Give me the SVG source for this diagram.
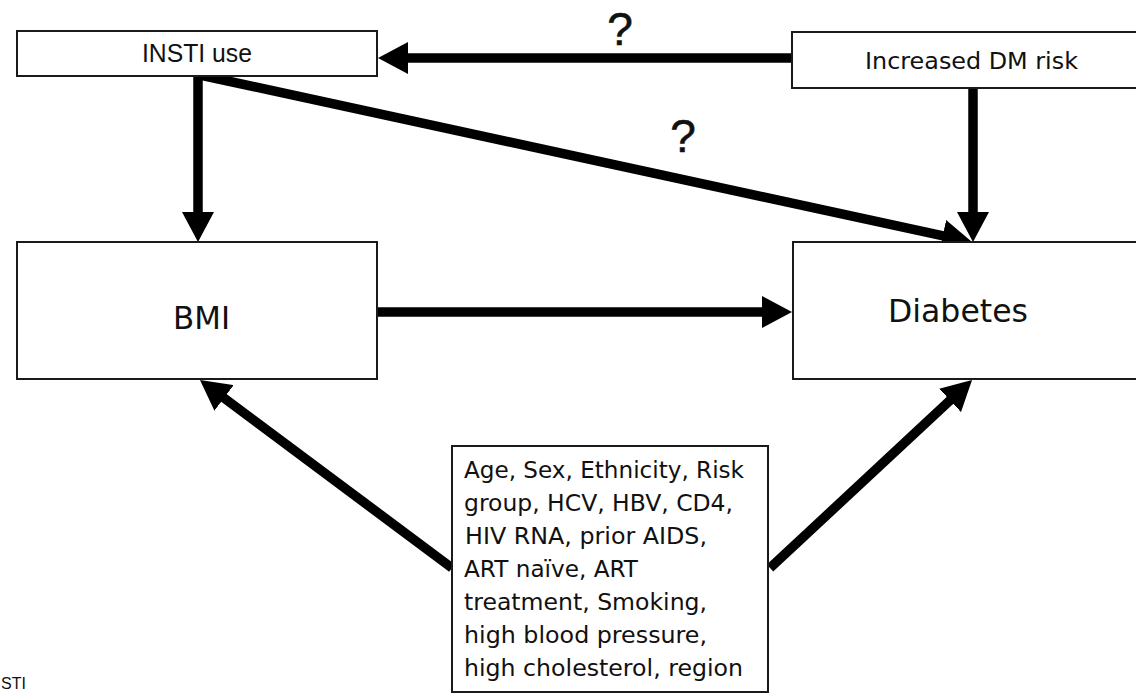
<svg xmlns="http://www.w3.org/2000/svg" width="1136" height="694" viewBox="0 0 1136 694">
<style>
.box{fill:#fff;stroke:#1a1a1a;stroke-width:2}
.conn{stroke:#000;stroke-width:9.5;fill:none;marker-end:url(#ah)}
.lbl{font-family:"DejaVu Sans",sans-serif;fill:#111}
.arial{font-family:"Liberation Sans",Arial,sans-serif;fill:#111}
</style>
<defs>
<marker id="ah" markerUnits="userSpaceOnUse" viewBox="0 0 30 32" refX="10" refY="16" markerWidth="30" markerHeight="32" orient="auto">
<path d="M0,0 L30,16 L0,32 z" fill="#000"/>
</marker>
</defs>
<rect width="1136" height="694" fill="#fff"/>
<g id="connectors">
<line class="conn" x1="792" y1="58" x2="398" y2="58"/>
<line class="conn" x1="198" y1="76" x2="198" y2="222"/>
<line class="conn" x1="973" y1="88" x2="973" y2="222"/>
<line class="conn" x1="377" y1="312" x2="772" y2="312"/>
<line class="conn" x1="200" y1="75" x2="952.5" y2="237.8"/>
<line class="conn" x1="452" y1="568" x2="216" y2="392"/>
<line class="conn" x1="770" y1="568" x2="957.4" y2="393.6"/>
<text class="arial" x="620" y="45" font-size="46" text-anchor="middle" stroke="#111" stroke-width="0.6">?</text>
<text class="arial" x="683" y="152" font-size="46" text-anchor="middle" stroke="#111" stroke-width="0.6">?</text>
</g>
<g id="insti">
<rect class="box" x="17" y="31" width="360" height="45"/>
<text class="arial" x="197" y="62" font-size="25" text-anchor="middle" textLength="110" lengthAdjust="spacingAndGlyphs">INSTI use</text>
</g>
<g id="dmrisk">
<rect class="box" x="792" y="32" width="350" height="56"/>
<text class="lbl" x="865" y="69" font-size="23.5" textLength="213" lengthAdjust="spacingAndGlyphs">Increased DM risk</text>
</g>
<g id="bmi">
<rect class="box" x="17" y="242" width="360" height="137"/>
<text class="lbl" x="173" y="329" font-size="32" textLength="57" lengthAdjust="spacingAndGlyphs">BMI</text>
</g>
<g id="diabetes">
<rect class="box" x="793" y="242" width="350" height="137"/>
<text class="lbl" x="888" y="322" font-size="32" textLength="140" lengthAdjust="spacingAndGlyphs">Diabetes</text>
</g>
<g id="confounders">
<rect class="box" x="452" y="446" width="316" height="246"/>
<g class="lbl" font-size="23">
<text x="464" y="478" textLength="280" lengthAdjust="spacingAndGlyphs">Age, Sex, Ethnicity, Risk</text>
<text x="464" y="511" textLength="269" lengthAdjust="spacingAndGlyphs">group, HCV, HBV, CD4,</text>
<text x="465" y="544" textLength="242" lengthAdjust="spacingAndGlyphs">HIV RNA, prior AIDS,</text>
<text x="464" y="577" textLength="174" lengthAdjust="spacingAndGlyphs">ART naïve, ART</text>
<text x="464" y="610" textLength="243" lengthAdjust="spacingAndGlyphs">treatment, Smoking,</text>
<text x="464" y="643" textLength="243" lengthAdjust="spacingAndGlyphs">high blood  pressure,</text>
<text x="464" y="676" textLength="279" lengthAdjust="spacingAndGlyphs">high cholesterol, region</text>
</g>
</g>
<g id="footnote">
<text class="arial" x="1" y="689" font-size="16">STI</text>
</g>
</svg>
